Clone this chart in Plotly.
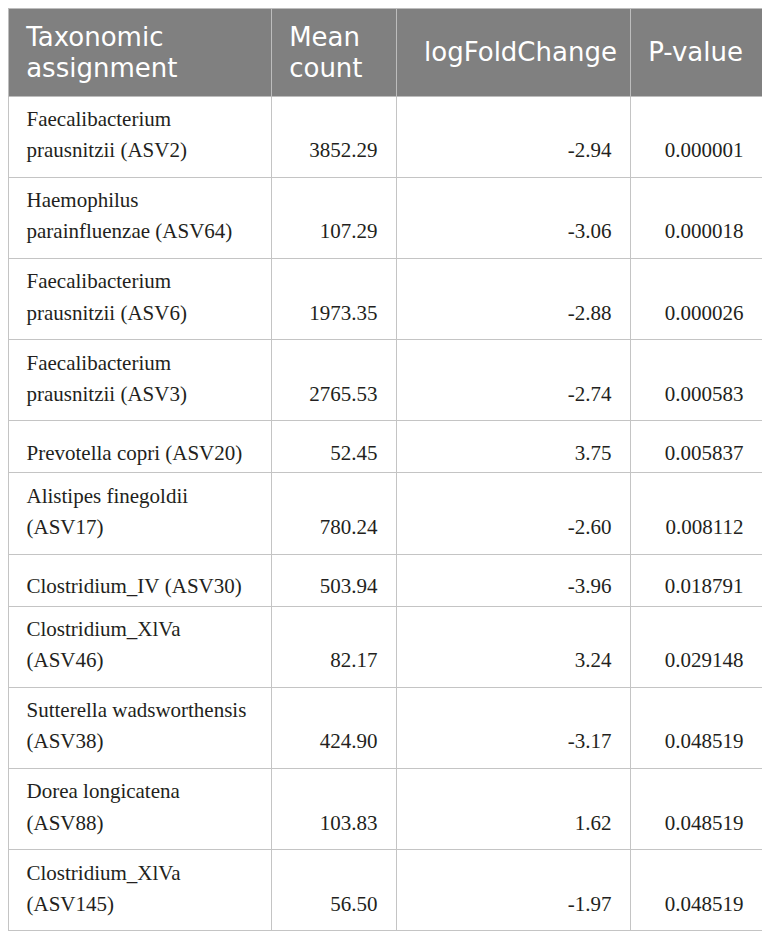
import plotly.graph_objects as go

# DESeq2-style results table
taxa = [
    "Faecalibacterium<br>prausnitzii (ASV2)",
    "Haemophilus<br>parainfluenzae (ASV64)",
    "Faecalibacterium<br>prausnitzii (ASV6)",
    "Faecalibacterium<br>prausnitzii (ASV3)",
    "Prevotella copri (ASV20)",
    "Alistipes finegoldii<br>(ASV17)",
    "Clostridium_IV (ASV30)",
    "Clostridium_XlVa<br>(ASV46)",
    "Sutterella wadsworthensis<br>(ASV38)",
    "Dorea longicatena<br>(ASV88)",
    "Clostridium_XlVa<br>(ASV145)",
]
mean_count = [3852.29, 107.29, 1973.35, 2765.53, 52.45, 780.24, 503.94, 82.17, 424.90, 103.83, 56.50]
log_fold = [-2.94, -3.06, -2.88, -2.74, 3.75, -2.60, -3.96, 3.24, -3.17, 1.62, -1.97]
p_value = [0.000001, 0.000018, 0.000026, 0.000583, 0.005837, 0.008112, 0.018791, 0.029148, 0.048519, 0.048519, 0.048519]

headers = ["Taxonomic<br>assignment", "Mean<br>count", "logFoldChange", "P-value"]

NB = "\u00a0"


def sp(txt, size):
    return '<span style="font-size:%spx">%s</span>' % (size, txt)


# plotly sizes a table row from the text box, so invisible nbsp "struts"
# of a given font size set the row height and the vertical position
def body_name(t):
    lines = t.split("<br>")
    if len(lines) == 1:
        return "<br>" + sp(NB * 2 + t.replace(" ", NB), 21) + sp(NB, 33)
    return (sp(NB * 2 + lines[0], 21) + sp(NB, 25) + "<br>"
            + sp(NB * 2 + lines[1], 21) + sp(NB, 57))


def body_num(t, s):
    if "<br>" in t:
        return sp(NB, 25) + "<br>" + sp(NB, 57) + sp(s + NB * 2, 21)
    return "<br>" + sp(NB, 33) + sp(s + NB * 2, 21)


def head(t, align):
    pad = sp(NB, 25) + sp(NB, 7)
    lines = t.split("<br>")
    if len(lines) == 2:
        return (pad + sp(lines[0], 26) + sp(NB, 32) + "<br>"
                + pad + sp(lines[1], 26))
    if align == "right":
        return "<br>" + sp(NB, 48.5) + sp(t, 26) + sp(NB, 16)
    return "<br>" + pad + sp(t, 26) + sp(NB, 48.5)


head_align = ["left", "left", "right", "left"]
cell_align = ["left", "right", "right", "right"]

col_name = [body_name(t) for t in taxa]
col_mean = [body_num(t, "{:.2f}".format(v)) for t, v in zip(taxa, mean_count)]
col_lfc = [body_num(t, "{:.2f}".format(v)) for t, v in zip(taxa, log_fold)]
col_p = [body_num(t, "{:.6f}".format(v)) for t, v in zip(taxa, p_value)]

fig = go.Figure(go.Table(
    columnwidth=[263, 125, 234, 132],
    header=dict(
        values=[head(h, a) for h, a in zip(headers, head_align)],
        fill_color="#808080",
        line=dict(color="#bdbdbd", width=1),
        align=head_align,
        font=dict(family="DejaVu Sans", size=24, color="white"),
        height=88,
    ),
    cells=dict(
        values=[col_name, col_mean, col_lfc, col_p],
        fill_color="white",
        line=dict(color="#c4c4c4", width=1),
        align=cell_align,
        font=dict(family="Liberation Serif", size=24, color="#231f20"),
        height=20,
    ),
))

fig.update_layout(
    width=754, height=928,
    margin=dict(l=0, r=0, t=0, b=0),
    paper_bgcolor="white",
)

fig.write_html("out.html")
